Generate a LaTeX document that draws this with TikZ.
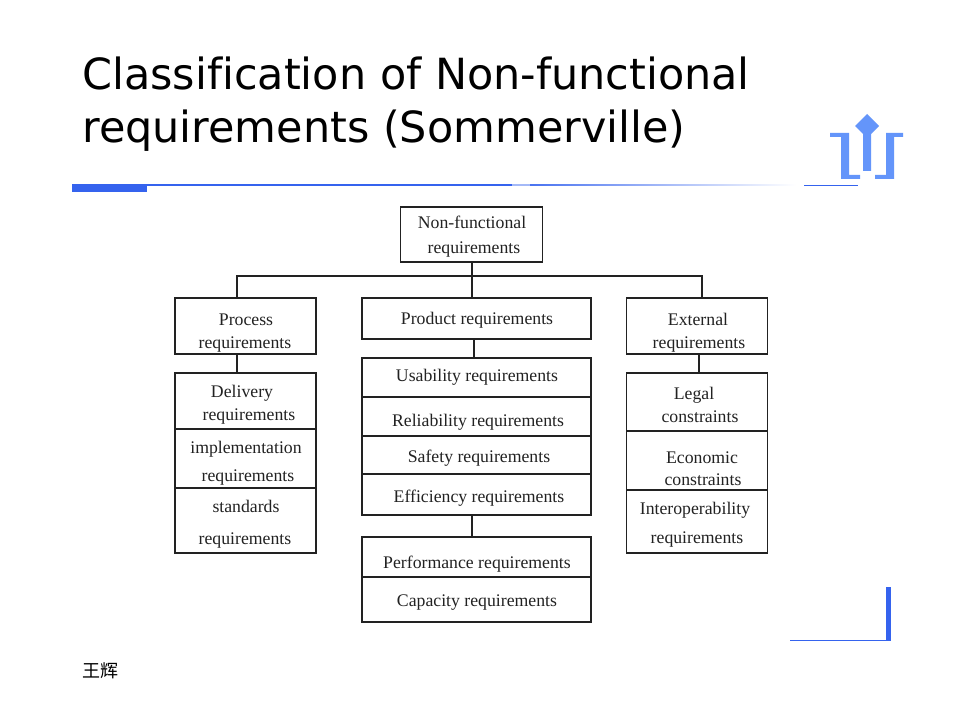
\documentclass[tikz,border=0pt]{standalone}
\usepackage{fontspec}
\setmainfont{Liberation Serif}
\newfontfamily\titlefont[Ligatures=NoCommon]{DejaVu Sans}
\newfontfamily\cjkfont{Noto Sans CJK SC}
\usetikzlibrary{positioning}
\definecolor{deckblue}{HTML}{3563EE}
\definecolor{iconblue}{HTML}{6495FA}
\definecolor{inkgray}{HTML}{222222}
% one line of box text: x and y offset from the box centre, in pixels
\newcommand{\reqline}[3]{\makebox[0pt]{\hspace{\dimexpr #1pt*3/2\relax}\raisebox{\dimexpr (-#2pt-1pt)*3/4\relax}[0pt][0pt]{#3}}}
\tikzset{
  reqbox/.style={draw=inkgray, line width=1.2pt, inner sep=0pt, outer sep=0pt,
    font=\fontsize{13.3}{16}\selectfont, text=inkgray},
  narrowbox/.style={reqbox, minimum width=105.75pt},
  widebox/.style={reqbox, minimum width=171.75pt},
  link/.style={draw=inkgray, line width=1.2pt},
  slidetitle/.style={anchor=north west, align=left, inner sep=0pt,
    font=\titlefont\fontsize{32.2}{39.5}\selectfont, text=black}
}
\begin{document}
\begin{tikzpicture}[x=0.75pt,y=-0.75pt]
  \useasboundingbox (0,0) rectangle (960,720);
  \fill[white] (0,0) rectangle (960,720);
  % title and footer
  \node[slidetitle] (title) at (82,57) {Classification of Non-functional\\requirements (Sommerville)};
  \node[inner sep=0pt, font=\cjkfont\fontsize{13.5}{16}\selectfont] (footer) at (100,671) {王辉};
  % slide decoration
  \fill[deckblue] (72,184) rectangle (147,192);
  \fill[deckblue] (147,184) rectangle (512,186);
  \fill[deckblue!45] (512,184.5) rectangle (530,186);
  \fill[left color=deckblue!90, right color=white] (530,184.5) rectangle (796,186);
  \fill[deckblue] (804,185.5) rectangle (858,186.5);
  \fill[deckblue] (886,587) rectangle (891,640);
  \fill[deckblue] (790,639.5) rectangle (891,641);
  \fill[iconblue] (830,133) -- (849,133) -- (849,175) -- (860,175) -- (860,179) -- (841,179) -- (841,137) -- (830,137) -- cycle;
  \fill[iconblue] (903,133) -- (886,133) -- (886,175) -- (875,175) -- (875,179) -- (894,179) -- (894,137) -- (903,137) -- cycle;
  \fill[iconblue] (867,114) -- (879,126) -- (871,134) -- (871,171) -- (863,171) -- (863,134) -- (855,126) -- cycle;
  % top of the tree
  \node[reqbox, minimum width=106.5pt, minimum height=41.25pt] (root) at (471.5,234.5) {\reqline{0.5}{-6.5}{Non-functional}\reqline{2.5}{18.5}{requirements}};
  \node[narrowbox, minimum height=42pt] (process) at (245.5,326) {\reqline{0.5}{-2}{Process}\reqline{-0.5}{21}{requirements}};
  \node[widebox, minimum height=30.75pt] (product) at (476.5,318.5) {\reqline{0.5}{4.5}{Product requirements}};
  \node[narrowbox, minimum height=42pt] (external) at (697,326) {\reqline{1}{-2}{External}\reqline{2}{21}{requirements}};
  % process column
  \node[narrowbox, minimum height=42pt, below=14.25pt of process] (delivery) {\reqline{-3.5}{-5}{Delivery}\reqline{3.5}{18}{requirements}};
  \node[narrowbox, minimum height=44.25pt, below=0pt of delivery] (implementation) {\reqline{0.5}{-6.5}{implementation}\reqline{2.5}{21.5}{requirements}};
  \node[narrowbox, minimum height=48.75pt, below=0pt of implementation] (standards) {\reqline{0.5}{-9.5}{standards}\reqline{-0.5}{22.5}{requirements}};
  % product column
  \node[widebox, minimum height=29.25pt, below=14.25pt of product] (usability) {\reqline{0.5}{2.5}{Usability requirements}};
  \node[widebox, minimum height=29.25pt, below=0pt of usability] (reliability) {\reqline{1.5}{8.5}{Reliability requirements}};
  \node[widebox, minimum height=28.5pt, below=0pt of reliability] (safety) {\reqline{2.5}{6}{Safety requirements}};
  \node[widebox, minimum height=30.75pt, below=0pt of safety] (efficiency) {\reqline{2.5}{6.5}{Efficiency requirements}};
  \node[widebox, minimum height=30pt, below=16.5pt of efficiency] (performance) {\reqline{0.5}{10}{Performance requirements}};
  \node[widebox, minimum height=33.75pt, below=0pt of performance] (capacity) {\reqline{0.5}{5.5}{Capacity requirements}};
  % external column
  \node[narrowbox, minimum height=43.5pt, below=14.25pt of external] (legal) {\reqline{-3}{-4}{Legal}\reqline{3}{19}{constraints}};
  \node[narrowbox, minimum height=44.25pt, below=0pt of legal] (economic) {\reqline{5}{1.5}{Economic}\reqline{6}{23.5}{constraints}};
  \node[narrowbox, minimum height=47.25pt, below=0pt of economic] (interoperability) {\reqline{-2}{-8.5}{Interoperability}\reqline{0}{20.5}{requirements}};
  % connectors
  \coordinate (busleft) at (237,276);
  \coordinate (busmid) at (472,276);
  \coordinate (busright) at (702,276);
  \draw[link] (process.north -| busleft) |- (busright) -- (external.north -| busright);
  \draw[link] (root.south -| busmid) -- (product.north -| busmid);
  \draw[link] (process.south -| busleft) -- (delivery.north -| busleft);
  \draw[link] ([xshift=-2pt]product.south) -- ([xshift=-2pt]usability.north);
  \draw[link] ([xshift=1.5pt]external.south) -- ([xshift=1.5pt]legal.north);
  \draw[link] (efficiency.south -| busmid) -- (performance.north -| busmid);
\end{tikzpicture}
\end{document}
